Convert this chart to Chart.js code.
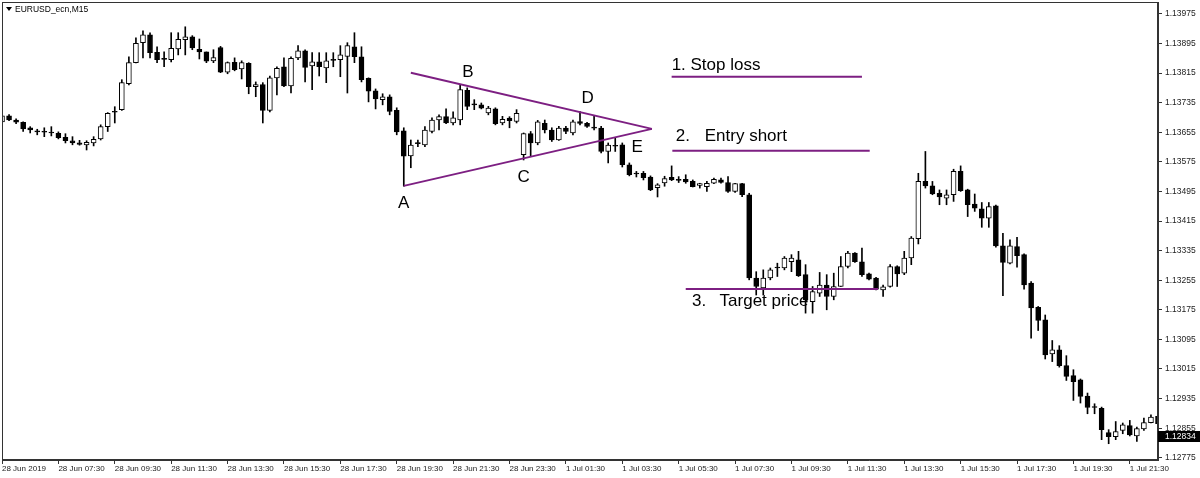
<!DOCTYPE html>
<html>
<head>
<meta charset="utf-8">
<script src="https://cdn.jsdelivr.net/npm/chart.js@4.4.0/dist/chart.umd.min.js"></script>
<style>
  html, body { margin: 0; padding: 0; background: #fff; }
  #wrap { width: 1200px; height: 478px; }
</style>
</head>
<body>
<div id="wrap"><canvas id="myChart" width="1200" height="478"></canvas></div>
<script>
    // EURUSD_ecn M15 candles, 28 Jun 2019 05:30 -> 1 Jul 2019 22:30
    var opens = [
        1.13683, 1.13699, 1.13688, 1.13682, 1.13667, 1.13657, 1.13656, 1.13655, 1.13652, 1.13641,
        1.13632, 1.13626, 1.13621, 1.13626, 1.13637, 1.13670, 1.13709, 1.13716, 1.13786, 1.13843,
        1.13897, 1.13918, 1.13871, 1.13853, 1.13851, 1.13880, 1.13905, 1.13913, 1.13879, 1.13872,
        1.13848, 1.13884, 1.13817, 1.13844, 1.13826, 1.13841, 1.13778, 1.13784, 1.13714, 1.13802,
        1.13832, 1.13780, 1.13856, 1.13875, 1.13834, 1.13845, 1.13829, 1.13849, 1.13851, 1.13860,
        1.13886, 1.13859, 1.13801, 1.13767, 1.13743, 1.13751, 1.13714, 1.13659, 1.13591, 1.13624,
        1.13621, 1.13657, 1.13688, 1.13697, 1.13680, 1.13688, 1.13768, 1.13730, 1.13729, 1.13707,
        1.13718, 1.13680, 1.13693, 1.13684, 1.13594, 1.13651, 1.13626, 1.13679, 1.13661, 1.13634,
        1.13666, 1.13653, 1.13684, 1.13679, 1.13667, 1.13666, 1.13603, 1.13618, 1.13621, 1.13567,
        1.13543, 1.13544, 1.13534, 1.13505, 1.13518, 1.13533, 1.13528, 1.13528, 1.13522, 1.13511,
        1.13508, 1.13517, 1.13526, 1.13519, 1.13495, 1.13516, 1.13486, 1.13261, 1.13234, 1.13261,
        1.13288, 1.13288, 1.13305, 1.13310, 1.13270, 1.13197, 1.13220, 1.13242, 1.13211, 1.13238,
        1.13292, 1.13328, 1.13305, 1.13272, 1.13261, 1.13229, 1.13238, 1.13292, 1.13274, 1.13315,
        1.13367, 1.13522, 1.13510, 1.13490, 1.13477, 1.13486, 1.13549, 1.13499, 1.13461, 1.13448,
        1.13423, 1.13456, 1.13348, 1.13301, 1.13346, 1.13324, 1.13247, 1.13182, 1.13148, 1.13056,
        1.13067, 1.13024, 1.12997, 1.12986, 1.12942, 1.12911, 1.12909, 1.12843, 1.12832, 1.12849,
        1.12862, 1.12834, 1.12853, 1.12870, 1.12887
    ];
    var highs = [
        1.13707, 1.13703, 1.13691, 1.13683, 1.13670, 1.13663, 1.13667, 1.13670, 1.13656, 1.13651,
        1.13643, 1.13633, 1.13632, 1.13643, 1.13675, 1.13708, 1.13724, 1.13797, 1.13859, 1.13910,
        1.13929, 1.13924, 1.13886, 1.13872, 1.13924, 1.13924, 1.13940, 1.13916, 1.13907, 1.13872,
        1.13878, 1.13887, 1.13845, 1.13856, 1.13848, 1.13843, 1.13791, 1.13789, 1.13807, 1.13832,
        1.13856, 1.13859, 1.13889, 1.13878, 1.13870, 1.13870, 1.13870, 1.13870, 1.13889, 1.13897,
        1.13924, 1.13886, 1.13802, 1.13772, 1.13759, 1.13756, 1.13721, 1.13667, 1.13634, 1.13634,
        1.13670, 1.13694, 1.13702, 1.13718, 1.13710, 1.13783, 1.13775, 1.13743, 1.13734, 1.13725,
        1.13721, 1.13698, 1.13697, 1.13716, 1.13653, 1.13657, 1.13687, 1.13688, 1.13667, 1.13671,
        1.13671, 1.13688, 1.13711, 1.13682, 1.13698, 1.13671, 1.13626, 1.13640, 1.13626, 1.13572,
        1.13549, 1.13549, 1.13537, 1.13516, 1.13536, 1.13564, 1.13535, 1.13540, 1.13526, 1.13517,
        1.13522, 1.13531, 1.13531, 1.13535, 1.13517, 1.13517, 1.13490, 1.13278, 1.13283, 1.13288,
        1.13301, 1.13319, 1.13324, 1.13333, 1.13297, 1.13238, 1.13276, 1.13270, 1.13274, 1.13319,
        1.13333, 1.13330, 1.13342, 1.13274, 1.13263, 1.13242, 1.13297, 1.13294, 1.13333, 1.13373,
        1.13544, 1.13603, 1.13522, 1.13499, 1.13499, 1.13555, 1.13564, 1.13501, 1.13488, 1.13465,
        1.13465, 1.13458, 1.13382, 1.13364, 1.13371, 1.13326, 1.13251, 1.13184, 1.13161, 1.13092,
        1.13078, 1.13051, 1.13013, 1.12988, 1.12950, 1.12921, 1.12912, 1.12851, 1.12873, 1.12869,
        1.12876, 1.12858, 1.12882, 1.12891, 1.12896
    ];
    var lows = [
        1.13675, 1.13686, 1.13678, 1.13657, 1.13653, 1.13648, 1.13643, 1.13645, 1.13637, 1.13626,
        1.13621, 1.13620, 1.13607, 1.13618, 1.13634, 1.13657, 1.13680, 1.13714, 1.13783, 1.13842,
        1.13856, 1.13856, 1.13843, 1.13832, 1.13845, 1.13864, 1.13864, 1.13878, 1.13853, 1.13843,
        1.13843, 1.13816, 1.13813, 1.13821, 1.13799, 1.13759, 1.13751, 1.13680, 1.13710, 1.13756,
        1.13778, 1.13761, 1.13851, 1.13791, 1.13770, 1.13807, 1.13789, 1.13832, 1.13805, 1.13761,
        1.13843, 1.13791, 1.13737, 1.13718, 1.13729, 1.13702, 1.13648, 1.13509, 1.13559, 1.13616,
        1.13616, 1.13653, 1.13661, 1.13678, 1.13675, 1.13675, 1.13716, 1.13716, 1.13718, 1.13702,
        1.13675, 1.13675, 1.13667, 1.13680, 1.13580, 1.13590, 1.13621, 1.13653, 1.13630, 1.13633,
        1.13651, 1.13648, 1.13675, 1.13668, 1.13661, 1.13599, 1.13572, 1.13603, 1.13561, 1.13537,
        1.13534, 1.13526, 1.13497, 1.13480, 1.13509, 1.13524, 1.13519, 1.13517, 1.13507, 1.13504,
        1.13495, 1.13516, 1.13517, 1.13492, 1.13492, 1.13481, 1.13256, 1.13215, 1.13215, 1.13256,
        1.13265, 1.13283, 1.13278, 1.13265, 1.13166, 1.13166, 1.13211, 1.13175, 1.13202, 1.13238,
        1.13288, 1.13303, 1.13265, 1.13256, 1.13229, 1.13211, 1.13236, 1.13238, 1.13270, 1.13297,
        1.13353, 1.13504, 1.13486, 1.13459, 1.13459, 1.13468, 1.13495, 1.13427, 1.13441, 1.13398,
        1.13398, 1.13344, 1.13213, 1.13299, 1.13290, 1.13231, 1.13098, 1.13119, 1.13042, 1.13035,
        1.13020, 1.12984, 1.12930, 1.12923, 1.12894, 1.12894, 1.12824, 1.12813, 1.12824, 1.12840,
        1.12834, 1.12819, 1.12849, 1.12869, 1.12864
    ];
    var closes = [
        1.13699, 1.13688, 1.13682, 1.13664, 1.13661, 1.13656, 1.13655, 1.13653, 1.13640, 1.13632,
        1.13626, 1.13622, 1.13628, 1.13636, 1.13670, 1.13706, 1.13710, 1.13789, 1.13843, 1.13895,
        1.13918, 1.13870, 1.13851, 1.13852, 1.13882, 1.13906, 1.13913, 1.13883, 1.13872, 1.13847,
        1.13857, 1.13817, 1.13843, 1.13824, 1.13843, 1.13778, 1.13784, 1.13714, 1.13802, 1.13828,
        1.13780, 1.13855, 1.13875, 1.13830, 1.13845, 1.13832, 1.13848, 1.13851, 1.13864, 1.13889,
        1.13859, 1.13797, 1.13766, 1.13745, 1.13751, 1.13711, 1.13656, 1.13590, 1.13620, 1.13625,
        1.13661, 1.13688, 1.13697, 1.13680, 1.13694, 1.13770, 1.13725, 1.13729, 1.13720, 1.13720,
        1.13678, 1.13690, 1.13686, 1.13706, 1.13651, 1.13626, 1.13683, 1.13661, 1.13634, 1.13666,
        1.13657, 1.13683, 1.13679, 1.13671, 1.13666, 1.13603, 1.13620, 1.13617, 1.13567, 1.13540,
        1.13542, 1.13532, 1.13499, 1.13513, 1.13530, 1.13526, 1.13525, 1.13521, 1.13508, 1.13516,
        1.13517, 1.13528, 1.13519, 1.13495, 1.13516, 1.13486, 1.13261, 1.13238, 1.13261, 1.13283,
        1.13289, 1.13315, 1.13315, 1.13267, 1.13202, 1.13224, 1.13242, 1.13211, 1.13238, 1.13292,
        1.13328, 1.13305, 1.13270, 1.13258, 1.13231, 1.13237, 1.13292, 1.13272, 1.13315, 1.13369,
        1.13522, 1.13510, 1.13488, 1.13480, 1.13486, 1.13549, 1.13497, 1.13459, 1.13450, 1.13423,
        1.13454, 1.13348, 1.13303, 1.13348, 1.13321, 1.13242, 1.13180, 1.13146, 1.13053, 1.13067,
        1.13024, 1.12995, 1.12981, 1.12941, 1.12911, 1.12912, 1.12851, 1.12832, 1.12846, 1.12864,
        1.12837, 1.12854, 1.12870, 1.12885, 1.12867
    ];

    var tickLabels = [
        '28 Jun 2019', '28 Jun 07:30', '28 Jun 09:30', '28 Jun 11:30', '28 Jun 13:30',
        '28 Jun 15:30', '28 Jun 17:30', '28 Jun 19:30', '28 Jun 21:30', '28 Jun 23:30',
        '1 Jul 01:30', '1 Jul 03:30', '1 Jul 05:30', '1 Jul 07:30', '1 Jul 09:30',
        '1 Jul 11:30', '1 Jul 13:30', '1 Jul 15:30', '1 Jul 17:30', '1 Jul 19:30', '1 Jul 21:30'
    ];
    var priceTicks = [
        1.12775, 1.12855, 1.12935, 1.13015, 1.13095, 1.13175, 1.13255, 1.13335,
        1.13415, 1.13495, 1.13575, 1.13655, 1.13735, 1.13815, 1.13895, 1.13975
    ];
    var lastPrice = 1.12834;

    // bar times, 15 min apart, weekend skipped
    var categories = [];
    function pad(n) { return (n < 10 ? '0' : '') + n; }
    for (var m = 330; m <= 1425; m += 15) categories.push('28 Jun ' + pad(Math.floor(m / 60)) + ':' + pad(m % 60));
    for (var m2 = 0; m2 <= 1350; m2 += 15) categories.push('1 Jul ' + pad(Math.floor(m2 / 60)) + ':' + pad(m2 % 60));

    // drawn objects: [bar index, price]
    var purple = '#7d1f82';
    var drawnLines = [
        [[58.0, 1.13816], [92.2, 1.13664]],
        [[57.0, 1.13510], [92.2, 1.13664]],
        [[95.0, 1.13805], [122.0, 1.13805]],
        [[95.1, 1.13605], [123.1, 1.13605]],
        [[97.0, 1.13231], [124.3, 1.13231]]
    ];
    var notes = [
        { text: 'A', x: 57.0, y: 1.13464, align: 'center' },
        { text: 'B', x: 66.1, y: 1.13818, align: 'center' },
        { text: 'C', x: 74.0, y: 1.13532, align: 'center' },
        { text: 'D', x: 83.1, y: 1.13748, align: 'center' },
        { text: 'E', x: 90.1, y: 1.13613, align: 'center' },
        { text: '1. Stop loss', x: 95.0, y: 1.13837, align: 'left' },
        { text: '2.', x: 95.6, y: 1.13643, align: 'left' },
        { text: 'Entry short', x: 99.7, y: 1.13643, align: 'left' },
        { text: '3.', x: 97.9, y: 1.13197, align: 'left' },
        { text: 'Target price', x: 101.8, y: 1.13197, align: 'left' }
    ];

    var lineSets = drawnLines.map(function (l) {
        return {
            type: 'line',
            xAxisID: 'xl',
            yAxisID: 'y',
            data: [{ x: l[0][0], y: l[0][1] }, { x: l[1][0], y: l[1][1] }],
            borderColor: purple,
            borderWidth: 2,
            pointRadius: 0,
            order: 0
        };
    });

    var overlay = {
        id: 'overlay',
        afterDraw: function (chart) {
            var c = chart.ctx, a = chart.chartArea;
            var xs = chart.scales.xl, ys = chart.scales.y;
            c.save();
            // frame round the plot
            c.strokeStyle = '#333';
            c.lineWidth = 1;
            c.strokeRect(a.left + 0.5, a.top + 0.5, a.right - a.left - 1, a.bottom - a.top - 1);

            // symbol caption
            c.fillStyle = '#000';
            c.beginPath();
            c.moveTo(6, 7); c.lineTo(12, 7); c.lineTo(9, 11); c.closePath();
            c.fill();
            c.font = '8.5px "Liberation Sans", Arial, sans-serif';
            c.textAlign = 'left';
            c.textBaseline = 'middle';
            c.fillText('EURUSD_ecn,M15', 15, 9.5);

            // pattern labels
            c.font = '17px "Liberation Sans", Arial, sans-serif';
            notes.forEach(function (n) {
                c.textAlign = n.align;
                c.fillText(n.text, xs.getPixelForValue(n.x), ys.getPixelForValue(n.y));
            });

            // last price marker
            var py = Math.round(ys.getPixelForValue(lastPrice));
            c.fillStyle = '#000';
            c.fillRect(a.right, py - 5, chart.width - a.right, 11);
            c.fillStyle = '#fff';
            c.font = '8.5px "Liberation Sans", Arial, sans-serif';
            c.textAlign = 'left';
            c.fillText(lastPrice.toFixed(5), a.right + 7, py + 0.5);
            c.restore();
        }
    };

    var ctx = document.getElementById('myChart').getContext('2d');
    var chart = new Chart(ctx, {
        type: 'bar',
        data: {
            labels: categories,
            datasets: [{
                label: 'wick',
                data: lows.map(function (l, i) { return [l, highs[i]]; }),
                backgroundColor: '#000',
                barThickness: 1,
                grouped: false,
                order: 2
            }, {
                label: 'body',
                data: opens.map(function (o, i) { return [o, closes[i]]; }),
                backgroundColor: function (c) {
                    var i = c.dataIndex;
                    if (Math.abs(closes[i] - opens[i]) < 0.00004) return '#000';
                    return closes[i] >= opens[i] ? '#fff' : '#000';
                },
                borderColor: '#000',
                borderWidth: 1,
                borderSkipped: false,
                barThickness: 5,
                minBarLength: 1,
                grouped: false,
                order: 1
            }].concat(lineSets)
        },
        options: {
            responsive: false,
            animation: false,
            layout: { padding: { left: 2, top: 2, right: 0, bottom: 0 } },
            plugins: { legend: { display: false }, tooltip: { enabled: false } },
            scales: {
                x: {
                    type: 'category',
                    offset: false,
                    grid: {
                        offset: false,
                        drawOnChartArea: false,
                        tickLength: 4,
                        tickColor: function (c) { return c.index % 8 === 0 ? '#333' : 'rgba(0,0,0,0)'; }
                    },
                    border: { color: '#333' },
                    ticks: {
                        autoSkip: false,
                        maxRotation: 0,
                        minRotation: 0,
                        align: 'start',
                        padding: 0,
                        color: '#222',
                        font: { family: '"Liberation Sans", Arial, sans-serif', size: 8 },
                        callback: function (v, i) { return i % 8 === 0 ? tickLabels[i / 8] : ''; }
                    },
                    afterFit: function (s) {
                        s.height = 18;
                        s.paddingLeft = 0;
                        s.paddingRight = 0;
                    }
                },
                xl: {
                    type: 'linear',
                    display: false,
                    offset: false,
                    grid: { offset: false },
                    min: 0,
                    max: 164
                },
                y: {
                    position: 'right',
                    min: 1.12769,
                    max: 1.14007,
                    afterBuildTicks: function (s) {
                        s.ticks = priceTicks.map(function (v) { return { value: v }; });
                    },
                    grid: { drawOnChartArea: false, tickLength: 4, color: '#333' },
                    border: { color: '#333' },
                    ticks: {
                        padding: 3,
                        color: '#222',
                        font: { family: '"Liberation Sans", Arial, sans-serif', size: 8.5 },
                        callback: function (v) { return v.toFixed(5); }
                    },
                    afterFit: function (s) {
                        s.width = 42;
                        s.paddingTop = 0;
                        s.paddingBottom = 0;
                    }
                }
            }
        },
        plugins: [overlay]
    });
</script>
</body>
</html>
